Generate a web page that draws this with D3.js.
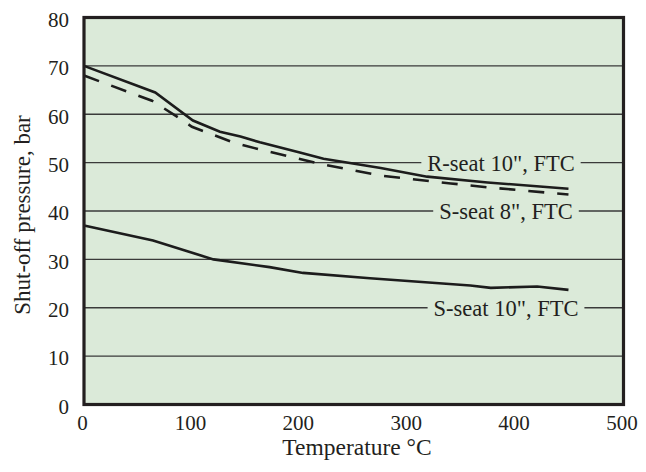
<!DOCTYPE html>
<head>
    <meta charset="utf-8">
    <script src="https://d3js.org/d3.v7.min.js"></script>
    <style>
      body { margin: 0; background: #fff; }
      text { font-family: "Liberation Serif", "DejaVu Serif", serif; fill: #231f20; }
    </style>
</head>
<body>
    <div class="chart"></div>

    <script>
      // values
      var xTicks = [0, 100, 200, 300, 400, 500],
          yTicks = [0, 10, 20, 30, 40, 50, 60, 70, 80];

      // R-seat 10", FTC (solid)
      var rSeat10 = [[0, 70], [66, 64.5], [101, 58.7], [126, 56.4], [145, 55.4], [163, 54.2],
                     [200, 52.1], [222, 50.8], [275, 48.9], [318, 47.1], [374, 45.9], [449, 44.6]];
      // S-seat 8", FTC (dashed)
      var sSeat8 = [[0, 68], [63, 62.8], [87, 59.4], [100, 57.4], [138, 54.2], [163, 52.7],
                    [222, 49.6], [275, 47.3], [340, 45.7], [374, 44.9], [449, 43.4]];
      // S-seat 10", FTC (solid)
      var sSeat10 = [[0, 37], [64, 33.9], [101, 31.3], [120, 30], [172, 28.4], [203, 27.2],
                     [265, 26.1], [358, 24.6], [377, 24.1], [420, 24.4], [449, 23.7]];

      var labels = [
        {text: 'R-seat 10", FTC', value: 50, cx: 501},
        {text: 'S-seat 8", FTC', value: 40, cx: 506},
        {text: 'S-seat 10", FTC', value: 20, cx: 506}
      ];

      var W = 646, H = 472,
          margin = {top: 17.5, right: 22.5, bottom: 67.5, left: 84};
      var width = W - margin.left - margin.right,
          height = H - margin.top - margin.bottom;
      var bg = '#dbead9';

      var x = d3.scaleLinear().domain([0, 500]).range([0, width]);
      var y = d3.scaleLinear().domain([0, 80]).range([height, 0]);

      var svg = d3.select('.chart').append('svg')
          .attr('width', W).attr('height', H);
      var g = svg.append('g')
          .attr('transform', 'translate(' + margin.left + ',' + margin.top + ')');

      g.append('rect')
          .attr('width', width).attr('height', height)
          .attr('fill', bg);

      // grid lines
      g.selectAll('.grid')
          .data(yTicks.filter(function(d) { return d > 0 && d < 80; }))
          .enter().append('line')
          .attr('class', 'grid')
          .attr('x1', 0).attr('x2', width)
          .attr('y1', function(d) { return y(d); })
          .attr('y2', function(d) { return y(d); })
          .attr('stroke', '#3a3a3a')
          .attr('stroke-width', 1.3);

      // labels sitting on grid lines
      labels.forEach(function(l) {
        var t = g.append('text')
            .attr('x', l.cx - margin.left)
            .attr('y', y(l.value))
            .attr('dy', '0.36em')
            .attr('text-anchor', 'middle')
            .attr('font-size', 22.5)
            .text(l.text);
        var bb = t.node().getBBox();
        g.insert('rect', function() { return t.node(); })
            .attr('x', bb.x - 6).attr('y', y(l.value) - 4)
            .attr('width', bb.width + 12).attr('height', 8)
            .attr('fill', bg);
      });

      var line = d3.line()
          .x(function(d) { return x(d[0]); })
          .y(function(d) { return y(d[1]); });

      g.append('path').datum(rSeat10)
          .attr('d', line).attr('fill', 'none')
          .attr('stroke', '#1c1c1c').attr('stroke-width', 2.6);
      g.append('path').datum(sSeat8)
          .attr('d', line).attr('fill', 'none')
          .attr('stroke', '#1c1c1c').attr('stroke-width', 2.6)
          .attr('stroke-dasharray', '16,13');
      g.append('path').datum(sSeat10)
          .attr('d', line).attr('fill', 'none')
          .attr('stroke', '#1c1c1c').attr('stroke-width', 2.6);

      // frame
      g.append('rect')
          .attr('width', width).attr('height', height)
          .attr('fill', 'none')
          .attr('stroke', '#231f20').attr('stroke-width', 3.2);

      // axes (labels only)
      var xAxis = d3.axisBottom(x).tickValues(xTicks).tickSize(0).tickPadding(0);
      var yAxis = d3.axisLeft(y).tickValues(yTicks).tickSize(0).tickPadding(0);

      g.append('g')
          .attr('class', 'x axis')
          .attr('transform', 'translate(0,' + height + ')')
          .call(xAxis)
          .call(function(s) { s.select('.domain').remove(); })
          .selectAll('text')
          .attr('font-size', 21)
          .attr('font-family', null)
          .attr('dx', -2)
          .attr('y', 25)
          .attr('dy', 0);

      g.append('g')
          .attr('class', 'y axis')
          .call(yAxis)
          .call(function(s) { s.select('.domain').remove(); })
          .selectAll('text')
          .attr('font-size', 21)
          .attr('font-family', null)
          .attr('x', -15)
          .attr('dy', '0.42em');

      svg.append('text')
          .attr('x', 357).attr('y', 455)
          .attr('text-anchor', 'middle')
          .attr('font-size', 23.5)
          .text('Temperature °C');

      svg.append('text')
          .attr('transform', 'translate(30,215) rotate(-90)')
          .attr('text-anchor', 'middle')
          .attr('font-size', 23)
          .text('Shut-off pressure, bar');
    </script>
</body>
